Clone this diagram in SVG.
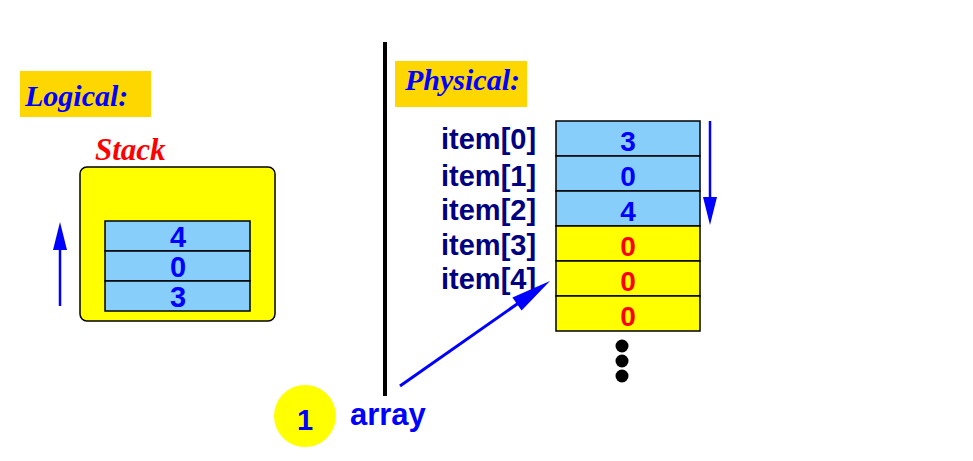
<svg xmlns="http://www.w3.org/2000/svg" width="973" height="461" viewBox="0 0 973 461">
<style>
.title{font-family:"Liberation Serif",serif;font-weight:bold;font-style:italic;font-size:30px;fill:#0000FF}
.stack{font-family:"Liberation Serif",serif;font-weight:bold;font-style:italic;font-size:31px;fill:#FF0000}
.lbl{font-family:"Liberation Sans",Arial,sans-serif;font-weight:bold;font-size:29px;fill:#000080}
.dig{font-family:"Liberation Sans",Arial,sans-serif;font-weight:bold;text-anchor:middle}
.blue{fill:#0000FF}
.red{fill:#FF0000}
.cell{stroke:#000;stroke-width:1.5}
.lb{fill:#87CEFA}
.ye{fill:#FFFF00}
</style>
<rect width="973" height="461" fill="#FFFFFF"/>
<g id="logical-label">
<rect x="20" y="71" width="131" height="46" fill="#FFD700"/>
<text class="title" x="25" y="106" font-size="31">Logical:</text>
</g>
<g id="stack">
<text class="stack" x="95" y="160">Stack</text>
<rect x="80" y="167" width="195" height="154" rx="7" fill="#FFFF00" stroke="#000" stroke-width="1.5"/>
<rect class="cell lb" x="105" y="221" width="145" height="30"/>
<rect class="cell lb" x="105" y="251" width="145" height="30"/>
<rect class="cell lb" x="105" y="281" width="145" height="30"/>
<text class="dig blue" x="178" y="247" font-size="29">4</text>
<text class="dig blue" x="178" y="277" font-size="29">0</text>
<text class="dig blue" x="178" y="307" font-size="29">3</text>
</g>
<g id="divider">
<rect x="383" y="42" width="4" height="354" fill="#000"/>
</g>
<g id="physical-label">
<rect x="395" y="61" width="132" height="46" fill="#FFD700"/>
<text class="title" x="405" y="90">Physical:</text>
</g>
<g id="array">
<text class="lbl" x="441" y="149">item[0]</text>
<text class="lbl" x="441" y="186">item[1]</text>
<text class="lbl" x="441" y="220">item[2]</text>
<text class="lbl" x="441" y="255">item[3]</text>
<text class="lbl" x="441" y="289">item[4]</text>
<rect class="cell lb" x="556" y="121" width="144" height="35"/>
<rect class="cell lb" x="556" y="156" width="144" height="35"/>
<rect class="cell lb" x="556" y="191" width="144" height="35"/>
<rect class="cell ye" x="556" y="226" width="144" height="35"/>
<rect class="cell ye" x="556" y="261" width="144" height="35"/>
<rect class="cell ye" x="556" y="296" width="144" height="35"/>
<text class="dig blue" x="628" y="151" font-size="28">3</text>
<text class="dig blue" x="628" y="186" font-size="28">0</text>
<text class="dig blue" x="628" y="221" font-size="28">4</text>
<text class="dig red" x="628" y="256" font-size="28">0</text>
<text class="dig red" x="628" y="291" font-size="28">0</text>
<text class="dig red" x="628" y="326" font-size="28">0</text>
<circle cx="622" cy="346" r="6.5" fill="#000"/>
<circle cx="622" cy="361" r="6.5" fill="#000"/>
<circle cx="622" cy="376" r="6.5" fill="#000"/>
</g>
<g id="array-marker">
<circle cx="305" cy="416" r="31" fill="#FFFF00"/>
<text class="dig blue" x="305" y="430" font-size="29">1</text>
<text x="350" y="425" font-family="Liberation Sans,Arial,sans-serif" font-weight="bold" font-size="31" fill="#0000FF">array</text>
</g>
<g id="connectors" fill="#0000FF" stroke="#0000FF">
<line x1="60" y1="306" x2="60" y2="248" stroke-width="2.5"/>
<polygon points="60,222 53,250 67,250" stroke="none"/>
<line x1="710" y1="121" x2="710" y2="200" stroke-width="2.5"/>
<polygon points="710,225 703,197 717,197" stroke="none"/>
<line x1="400" y1="386" x2="520" y2="302" stroke-width="3"/>
<polygon points="550,281 521.6,310.6 512.4,297.4" stroke="none"/>
</g>
</svg>
